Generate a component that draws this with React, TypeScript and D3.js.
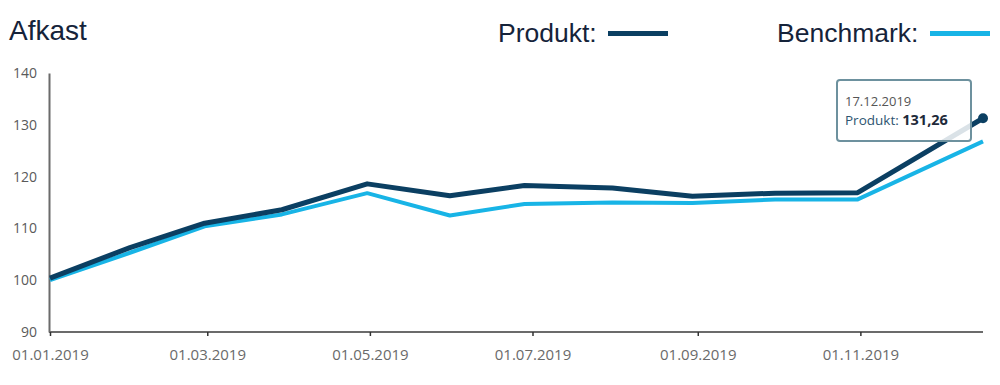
import React, { useEffect, useRef } from 'react';
import * as d3 from 'd3';

// month-end observations
const dates = [
  '2019-01-01', '2019-01-31', '2019-02-28', '2019-03-29', '2019-04-30', '2019-05-31',
  '2019-06-28', '2019-07-31', '2019-08-30', '2019-09-30', '2019-10-31', '2019-12-17',
];
const produkt = [100.4, 106.3, 111.0, 113.6, 118.6, 116.3, 118.3, 117.8, 116.2, 116.8, 116.9, 131.26];
const benchmark = [100.0, 105.3, 110.4, 112.7, 116.8, 112.5, 114.7, 115.0, 114.9, 115.6, 115.6, 126.8];
const yTicks = [90, 100, 110, 120, 130, 140];
const xTicks = ['2019-01-01', '2019-03-01', '2019-05-01', '2019-07-01', '2019-09-01', '2019-11-01'];

const DARK = '#0b3f62';
const LIGHT = '#18b4e6';

export default function App() {
  const svgRef = useRef<SVGSVGElement>(null);

  useEffect(() => {
    if (!svgRef.current) return;
    const svg = d3.select(svgRef.current);
    svg.selectAll('*').remove();

    const parse = d3.timeParse('%Y-%m-%d');
    const fmt = d3.timeFormat('%d.%m.%Y');
    const ds = dates.map(d => parse(d) as Date);

    const x = d3.scaleTime()
      .domain([ds[0], ds[ds.length - 1]])
      .range([50, 983]);
    const y = d3.scaleLinear().domain([90, 140]).range([332, 73]);

    const labelFont = '"Open Sans", sans-serif';

    // title + legend
    svg.append('text').attr('x', 9).attr('y', 40)
      .style('font-family', '"Liberation Sans", Arial').style('font-size', '28px')
      .style('fill', '#15233a').text('Afkast');

    const legend = [
      { name: 'Produkt:', color: DARK, tx: 498, lx: 608 },
      { name: 'Benchmark:', color: LIGHT, tx: 777, lx: 930 },
    ];
    legend.forEach(l => {
      svg.append('text').attr('x', l.tx).attr('y', 42)
        .style('font-family', '"Liberation Sans", Arial').style('font-size', '26.5px')
        .style('fill', '#15233a').text(l.name);
      svg.append('rect').attr('x', l.lx).attr('y', 31).attr('width', 60).attr('height', 5)
        .attr('fill', l.color);
    });

    // axes
    const yAxis = svg.append('g').attr('transform', 'translate(49,0)')
      .call(d3.axisLeft(y).tickValues(yTicks).tickSize(0).tickPadding(12));
    yAxis.select('.domain').attr('stroke', '#6b6b6b').attr('stroke-width', 2);
    yAxis.selectAll('text')
      .style('font-family', labelFont).style('font-size', '14px').style('fill', '#5a5a5a');

    const xAxis = svg.append('g').attr('transform', 'translate(0,332)')
      .call(d3.axisBottom(x)
        .tickValues(xTicks.map(d => parse(d) as Date))
        .tickSize(4).tickPadding(13)
        .tickFormat(d => fmt(d as Date)));
    xAxis.select('.domain').attr('stroke', '#6b6b6b').attr('stroke-width', 2)
      .attr('d', 'M49,0H983');
    xAxis.selectAll('line').attr('stroke', '#333').attr('stroke-width', 1.5);
    xAxis.selectAll('text')
      .style('font-family', labelFont).style('font-size', '15px').style('fill', '#6a6a6a');

    // lines
    const line = d3.line<number>()
      .x((_, i) => x(ds[i]))
      .y(v => y(v));

    svg.append('path').datum(benchmark).attr('d', line)
      .attr('fill', 'none').attr('stroke', LIGHT).attr('stroke-width', 4)
      .attr('stroke-linejoin', 'round');
    svg.append('path').datum(produkt).attr('d', line)
      .attr('fill', 'none').attr('stroke', DARK).attr('stroke-width', 5)
      .attr('stroke-linejoin', 'round');

    const last = produkt.length - 1;
    svg.append('circle').attr('cx', x(ds[last])).attr('cy', y(produkt[last])).attr('r', 5)
      .attr('fill', DARK);

    // tooltip
    const tip = svg.append('g').attr('transform', 'translate(837,80)');
    tip.append('rect').attr('width', 134).attr('height', 61).attr('rx', 3)
      .attr('fill', 'rgba(255,255,255,0.85)').attr('stroke', '#6d919e').attr('stroke-width', 2);
    tip.append('text').attr('x', 8).attr('y', 26)
      .style('font-family', labelFont).style('font-size', '13px').style('fill', '#555')
      .text(fmt(ds[last]));
    const t2 = tip.append('text').attr('x', 8).attr('y', 45)
      .style('font-family', labelFont).style('font-size', '13.5px').style('fill', '#2d5470');
    t2.append('tspan').text('Produkt: ');
    t2.append('tspan').style('font-weight', 'bold').style('fill', '#1e2a3a')
      .style('font-size', '14.5px')
      .text(d3.format('.2f')(produkt[last]).replace('.', ','));
  }, []);

  return (
    <svg ref={svgRef} width={1000} height={385}
      style={{ position: 'absolute', left: 0, top: 0, background: '#fff' }} />
  );
}
